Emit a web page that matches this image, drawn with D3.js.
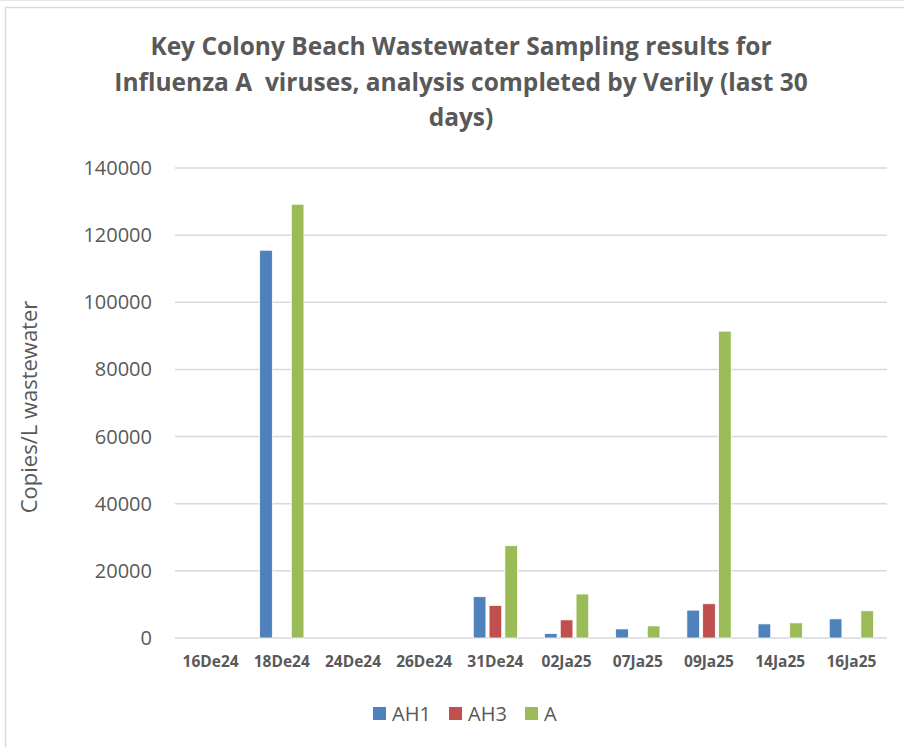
<!DOCTYPE html>
<html>
<head>
<meta charset="utf-8">
<script src="https://cdn.jsdelivr.net/npm/d3@7"></script>
<style>
  body { margin: 0; background: #fff; }
  text { font-family: "Open Sans", Lato, sans-serif; fill: #595959; }
</style>
</head>
<body>
<div id="chart"></div>
<script>
var dates = ["16De24", "18De24", "24De24", "26De24", "31De24", "02Ja25", "07Ja25", "09Ja25", "14Ja25", "16Ja25"];
var seriesNames = ["AH1", "AH3", "A"];
var ah1 = [0, 115500, 0, 0, 12300, 1300, 2700, 8300, 4200, 5700];
var ah3 = [0, 0, 0, 0, 9700, 5400, 0, 10200, 0, 0];
var fluA = [0, 129200, 0, 0, 27500, 13100, 3600, 91400, 4500, 8100];
var yTicks = [0, 20000, 40000, 60000, 80000, 100000, 120000, 140000];
var colors = ["#4F81BD", "#C0504D", "#9BBB59"];
var titleLines = ["Key Colony Beach Wastewater Sampling results for",
                  "Influenza A  viruses, analysis completed by Verily (last 30",
                  "days)"];

var width = 904, height = 747;
var padding = {top: 168, right: 17, bottom: 109, left: 175};

var svg = d3.select("#chart")
            .append("svg")
              .attr("width", width)
              .attr("height", height);

// frame
svg.append("line")
   .attr("x1", 0).attr("x2", width).attr("y1", 0.5).attr("y2", 0.5)
   .attr("stroke", "#e6e6e6");
svg.append("rect")
   .attr("x", 5.5).attr("y", 7.5)
   .attr("width", 1000).attr("height", 1000)
   .attr("fill", "none").attr("stroke", "#d9d9d9").attr("stroke-width", 1.5);

var table = dates.map(function(d, i) {
  return {date: d, values: [ah1[i], ah3[i], fluA[i]]};
});

var x0 = d3.scaleBand()
           .domain(dates)
           .range([padding.left, width - padding.right])
           .paddingInner(0.334)
           .paddingOuter(0.167);

var x1 = d3.scaleBand()
           .domain(seriesNames)
           .range([0, x0.bandwidth()])
           .paddingInner(0.2)
           .paddingOuter(0.1);

var yScale = d3.scaleLinear()
               .domain([0, 140000])
               .range([height - padding.bottom, padding.top]);

// gridlines
svg.append("g")
   .selectAll("line")
   .data(yTicks)
   .enter()
   .append("line")
     .attr("x1", padding.left)
     .attr("x2", width - padding.right)
     .attr("y1", d => yScale(d))
     .attr("y2", d => yScale(d))
     .attr("stroke", "#d9d9d9")
     .attr("stroke-width", 1.5);

// y tick labels
svg.append("g")
   .selectAll("text")
   .data(yTicks)
   .enter()
   .append("text")
     .attr("x", padding.left - 23)
     .attr("y", d => yScale(d))
     .attr("dy", "0.35em")
     .attr("text-anchor", "end")
     .style("font-size", "20px")
     .text(d => d);

// bars
var groups = svg.append("g")
                .selectAll("g")
                .data(table)
                .enter()
                .append("g")
                  .attr("transform", d => "translate(" + x0(d.date) + ",0)");

groups.selectAll("rect")
      .data(d => d.values.map((v, i) => ({key: seriesNames[i], value: v, color: colors[i]})))
      .enter()
      .append("rect")
        .filter(d => d.value > 0)
        .attr("x", d => x1(d.key))
        .attr("y", d => yScale(d.value))
        .attr("width", x1.bandwidth())
        .attr("height", d => yScale(0) - yScale(d.value))
        .attr("fill", d => d.color)
        .attr("stroke", "#fff")
        .attr("stroke-width", 0.75);

// x labels
svg.append("g")
   .selectAll("text")
   .data(dates)
   .enter()
   .append("text")
     .attr("x", d => x0(d) + x0.bandwidth() / 2)
     .attr("y", yScale(0) + 29)
     .attr("text-anchor", "middle")
     .style("font-size", "15.5px")
     .style("font-weight", "bold")
     .text(d => d);

// y axis title
svg.append("text")
   .attr("transform", "translate(37," + ((yScale(0) + yScale(140000)) / 2 + 4) + ") rotate(-90)")
   .attr("text-anchor", "middle")
   .style("font-size", "22px")
   .text("Copies/L wastewater");

// title
svg.append("g")
   .selectAll("text")
   .data(titleLines)
   .enter()
   .append("text")
     .attr("x", 461)
     .attr("y", (d, i) => 55 + i * 35.5)
     .attr("text-anchor", "middle")
     .style("font-size", "24.5px")
     .style("font-weight", "bold")
     .style("white-space", "pre")
     .text(d => d);

// legend
var legend = svg.append("g")
                .selectAll("g")
                .data(seriesNames)
                .enter()
                .append("g")
                  .attr("transform", (d, i) => "translate(" + [373, 449, 525][i] + ",707)");
legend.append("rect")
      .attr("width", 13).attr("height", 13)
      .attr("fill", (d, i) => colors[i]);
legend.append("text")
      .attr("x", 19).attr("y", 6.5)
      .attr("dy", "0.35em")
      .style("font-size", "20px")
      .text(d => d);
</script>
</body>
</html>
